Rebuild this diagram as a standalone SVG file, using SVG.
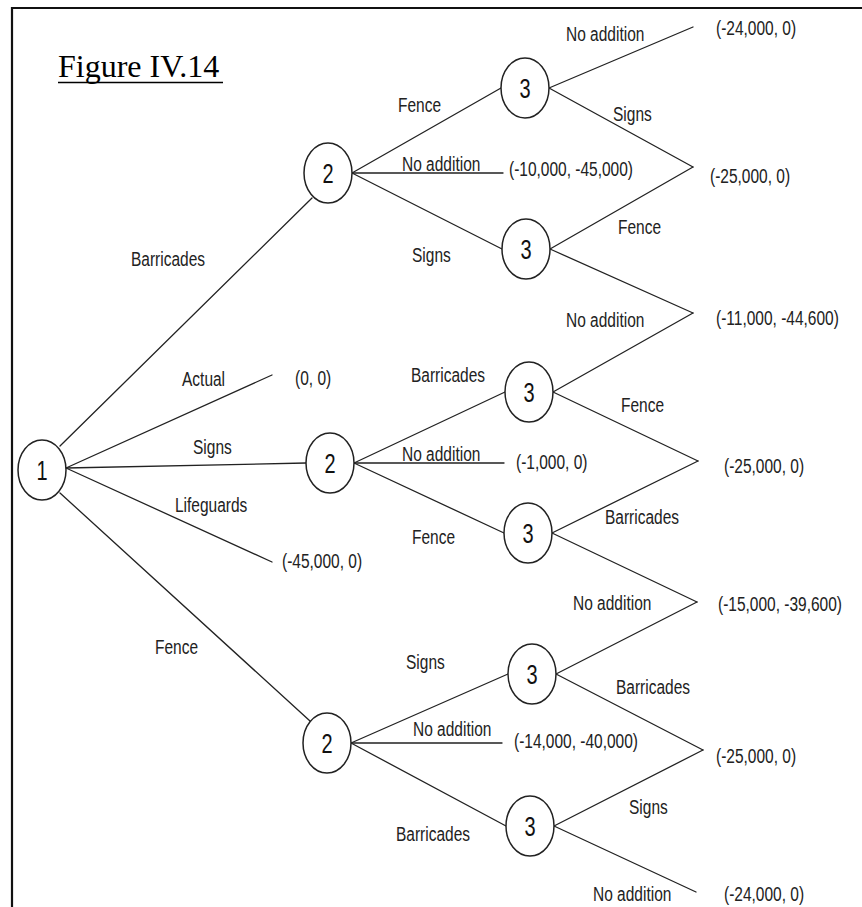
<svg xmlns="http://www.w3.org/2000/svg" width="862" height="907" viewBox="0 0 862 907">
<style>
.frame{fill:none;stroke:#111;stroke-width:2.2}
.c line{stroke:#222;stroke-width:1.3;stroke-linecap:round}
.n ellipse{fill:#fff;stroke:#222;stroke-width:1.5}
.n text{font-family:"Liberation Sans",Arial,sans-serif;font-size:20px;fill:#111;text-anchor:middle}
.t{font-family:"Liberation Sans",Arial,sans-serif;font-size:15.5px;fill:#222}
.title{font-family:"Liberation Serif","Times New Roman",serif;font-size:32px;fill:#000}
</style>
<rect width="862" height="907" fill="#fff"/>
<path class="frame" d="M12 907 V8 H862"/>
<g id="title">
<text class="title" x="58" y="77">Figure IV.14</text>
<line x1="58" y1="82.5" x2="223" y2="82.5" stroke="#000" stroke-width="1.5"/>
</g>
<g id="connectors" class="c">
<line x1="60" y1="446" x2="312" y2="198"/>
<line x1="66" y1="468" x2="272" y2="375"/>
<line x1="66" y1="468" x2="306" y2="463"/>
<line x1="66" y1="468" x2="272" y2="562"/>
<line x1="60" y1="493" x2="310" y2="721"/>
<line x1="352" y1="173" x2="501" y2="88"/>
<line x1="352" y1="173" x2="503" y2="173"/>
<line x1="352" y1="173" x2="502" y2="249"/>
<line x1="549" y1="88" x2="693" y2="27"/>
<line x1="549" y1="88" x2="693" y2="167"/>
<line x1="550" y1="249" x2="693" y2="167"/>
<line x1="550" y1="249" x2="693" y2="313"/>
<line x1="354" y1="463" x2="505" y2="392"/>
<line x1="354" y1="463" x2="504" y2="463"/>
<line x1="354" y1="463" x2="504" y2="533"/>
<line x1="553" y1="392" x2="693" y2="313"/>
<line x1="553" y1="392" x2="698" y2="461"/>
<line x1="552" y1="533" x2="698" y2="461"/>
<line x1="552" y1="533" x2="697" y2="602"/>
<line x1="351" y1="743" x2="508" y2="674"/>
<line x1="351" y1="743" x2="502" y2="743"/>
<line x1="351" y1="743" x2="506" y2="826"/>
<line x1="556" y1="674" x2="697" y2="602"/>
<line x1="556" y1="674" x2="703" y2="750"/>
<line x1="554" y1="826" x2="703" y2="750"/>
<line x1="554" y1="826" x2="696" y2="892"/>
</g>
<g id="n1" class="n"><ellipse cx="42" cy="470" rx="24" ry="30"/><text transform="matrix(1 0 0 1.35 42 480)">1</text></g>
<g id="n2a" class="n"><ellipse cx="328" cy="173" rx="24" ry="30"/><text transform="matrix(1 0 0 1.35 328 183)">2</text></g>
<g id="n2b" class="n"><ellipse cx="330" cy="463" rx="24" ry="30"/><text transform="matrix(1 0 0 1.35 330 473)">2</text></g>
<g id="n2c" class="n"><ellipse cx="327" cy="743" rx="24" ry="30"/><text transform="matrix(1 0 0 1.35 327 753)">2</text></g>
<g id="n3a" class="n"><ellipse cx="525" cy="88" rx="24" ry="30"/><text transform="matrix(1 0 0 1.35 525 98)">3</text></g>
<g id="n3b" class="n"><ellipse cx="526" cy="249" rx="24" ry="30"/><text transform="matrix(1 0 0 1.35 526 259)">3</text></g>
<g id="n3c" class="n"><ellipse cx="529" cy="392" rx="24" ry="30"/><text transform="matrix(1 0 0 1.35 529 402)">3</text></g>
<g id="n3d" class="n"><ellipse cx="528" cy="533" rx="24" ry="30"/><text transform="matrix(1 0 0 1.35 528 543)">3</text></g>
<g id="n3e" class="n"><ellipse cx="532" cy="674" rx="24" ry="30"/><text transform="matrix(1 0 0 1.35 532 684)">3</text></g>
<g id="n3f" class="n"><ellipse cx="530" cy="826" rx="24" ry="30"/><text transform="matrix(1 0 0 1.35 530 836)">3</text></g>
<g id="labels">
<text class="t" transform="matrix(1 0 0 1.25 566 41)">No addition</text>
<text class="t" transform="matrix(1 0 0 1.25 716 35)">(-24,000, 0)</text>
<text class="t" transform="matrix(1 0 0 1.25 398 112)">Fence</text>
<text class="t" transform="matrix(1 0 0 1.25 613 121)">Signs</text>
<text class="t" transform="matrix(1 0 0 1.25 402 171)">No addition</text>
<text class="t" transform="matrix(1 0 0 1.25 509 176)">(-10,000, -45,000)</text>
<text class="t" transform="matrix(1 0 0 1.25 710 183)">(-25,000, 0)</text>
<text class="t" transform="matrix(1 0 0 1.25 618 234)">Fence</text>
<text class="t" transform="matrix(1 0 0 1.25 412 262)">Signs</text>
<text class="t" transform="matrix(1 0 0 1.25 131 266)">Barricades</text>
<text class="t" transform="matrix(1 0 0 1.25 566 327)">No addition</text>
<text class="t" transform="matrix(1 0 0 1.25 716 325)">(-11,000, -44,600)</text>
<text class="t" transform="matrix(1 0 0 1.25 411 382)">Barricades</text>
<text class="t" transform="matrix(1 0 0 1.25 182 386)">Actual</text>
<text class="t" transform="matrix(1 0 0 1.25 295 385)">(0, 0)</text>
<text class="t" transform="matrix(1 0 0 1.25 621 412)">Fence</text>
<text class="t" transform="matrix(1 0 0 1.25 193 454)">Signs</text>
<text class="t" transform="matrix(1 0 0 1.25 402 461)">No addition</text>
<text class="t" transform="matrix(1 0 0 1.25 516 469)">(-1,000, 0)</text>
<text class="t" transform="matrix(1 0 0 1.25 724 473)">(-25,000, 0)</text>
<text class="t" transform="matrix(1 0 0 1.25 175 512)">Lifeguards</text>
<text class="t" transform="matrix(1 0 0 1.25 605 524)">Barricades</text>
<text class="t" transform="matrix(1 0 0 1.25 412 544)">Fence</text>
<text class="t" transform="matrix(1 0 0 1.25 282 568)">(-45,000, 0)</text>
<text class="t" transform="matrix(1 0 0 1.25 573 610)">No addition</text>
<text class="t" transform="matrix(1 0 0 1.25 718 611)">(-15,000, -39,600)</text>
<text class="t" transform="matrix(1 0 0 1.25 155 654)">Fence</text>
<text class="t" transform="matrix(1 0 0 1.25 406 669)">Signs</text>
<text class="t" transform="matrix(1 0 0 1.25 616 694)">Barricades</text>
<text class="t" transform="matrix(1 0 0 1.25 413 736)">No addition</text>
<text class="t" transform="matrix(1 0 0 1.25 514 748)">(-14,000, -40,000)</text>
<text class="t" transform="matrix(1 0 0 1.25 716 763)">(-25,000, 0)</text>
<text class="t" transform="matrix(1 0 0 1.25 629 814)">Signs</text>
<text class="t" transform="matrix(1 0 0 1.25 396 841)">Barricades</text>
<text class="t" transform="matrix(1 0 0 1.25 593 901)">No addition</text>
<text class="t" transform="matrix(1 0 0 1.25 724 901)">(-24,000, 0)</text>
</g>
</svg>
